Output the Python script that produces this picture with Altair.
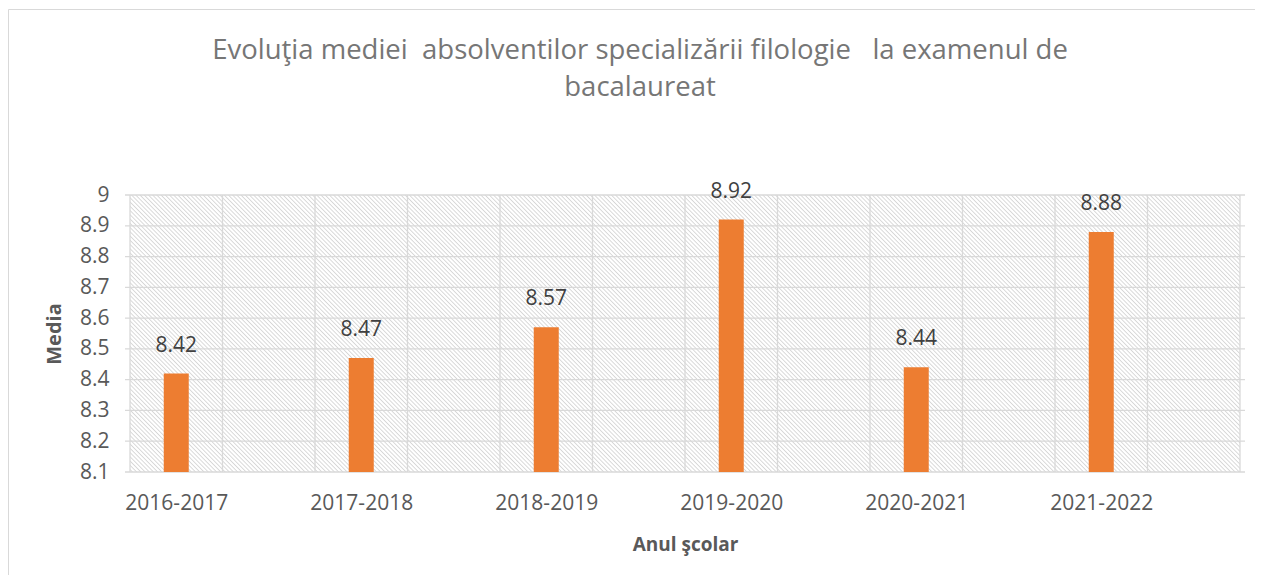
import json
import altair as alt
import pandas as pd

# ---- data ----
years = ["2016-2017", "2017-2018", "2018-2019", "2019-2020", "2020-2021", "2021-2022"]
means = [8.42, 8.47, 8.57, 8.92, 8.44, 8.88]
y_ticks = [8.1, 8.2, 8.3, 8.4, 8.5, 8.6, 8.7, 8.8, 8.9, 9.0]
x_grid = [-0.25, 0.25, 0.75, 1.25, 1.75, 2.25, 2.75, 3.25, 3.75, 4.25, 4.75, 5.25, 5.75]
x_domain = [-0.25, 5.75]
y_domain = [8.1, 9.0]

title_lines = [
    "Evoluţia mediei\u00a0 absolventilor specializării filologie\u00a0 \u00a0la examenul de",
    "bacalaureat",
]

W, H = 1120, 277
FONT = "Open Sans"
GRID = "#d9d9d9"
TEXT = "#595959"

df = pd.DataFrame({"idx": list(range(len(years))), "year": years, "media": means,
                   "base": [y_domain[0]] * len(years)})
grid_x = pd.DataFrame({"v": x_grid})
grid_y = pd.DataFrame({"v": y_ticks})
bg = pd.DataFrame({"x": [x_domain[0]], "x2": [x_domain[1]], "y": [y_domain[0]], "y2": [y_domain[1]]})

xs = alt.Scale(domain=x_domain, nice=False, zero=False)
ys = alt.Scale(domain=y_domain, nice=False, zero=False)

label_expr = json.dumps(years) + "[datum.value]"
xax = alt.Axis(values=list(range(len(years))), labelExpr=label_expr,
               grid=False, ticks=False, domain=False, labelFontSize=21,
               labelFont=FONT, labelColor=TEXT, labelPadding=20,
               title="Anul şcolar", titleFont=FONT, titleFontSize=19,
               titleFontWeight="bold", titleColor=TEXT, titlePadding=22)
yax = alt.Axis(values=y_ticks, labelExpr="format(datum.value, '.1~f')",
               grid=False, ticks=False, domain=False, labelFontSize=21,
               labelFont=FONT, labelColor=TEXT, labelPadding=16,
               title="Media", titleFont=FONT, titleFontSize=20,
               titleFontWeight="bold", titleColor=TEXT, titlePadding=15)

# hatch pattern built as a striped linear gradient (objectBoundingBox units)
r = H / W
k = (1 + r) / (1 + r * r)
N = 329
stops = []
for i in range(N):
    stops.append(alt.GradientStop(color="#ffffff", offset=i / N))
    stops.append(alt.GradientStop(color="#ffffff", offset=(i + 0.3) / N))
    stops.append(alt.GradientStop(color="#d6d6d6", offset=(i + 0.6) / N))
    stops.append(alt.GradientStop(color="#ffffff", offset=(i + 0.9) / N))
stops.append(alt.GradientStop(color="#ffffff", offset=1.0))
hatch = alt.LinearGradient(gradient="linear", stops=stops, x1=0, y1=1, x2=k, y2=1 - k * r)

back = alt.Chart(bg).mark_rect(fill=hatch).encode(
    x=alt.X("x:Q", scale=xs, axis=xax),
    x2="x2:Q",
    y=alt.Y("y:Q", scale=ys, axis=yax),
    y2="y2:Q",
)

vgrid = alt.Chart(grid_x).mark_rule(color=GRID, strokeWidth=1.3).encode(
    x=alt.X("v:Q", scale=xs, axis=xax)
)
hgrid = alt.Chart(grid_y).mark_rule(color=GRID, strokeWidth=1.3).encode(
    y=alt.Y("v:Q", scale=ys, axis=yax)
)

bars = alt.Chart(df).mark_bar(size=25, color="#ED7D31", orient="vertical").encode(
    x=alt.X("idx:Q", scale=xs, axis=xax),
    y=alt.Y("media:Q", scale=ys, axis=yax),
    y2="base:Q",
)

labels = alt.Chart(df).mark_text(font=FONT, fontSize=21, color="#404040",
                                 baseline="alphabetic", dy=-22).encode(
    x=alt.X("idx:Q", scale=xs, axis=xax),
    y=alt.Y("media:Q", scale=ys, axis=yax),
    text=alt.Text("media:Q", format=".2f"),
)

title = alt.Chart(bg).mark_text(font=FONT, fontSize=27.5, color="#767676", align="center",
                                baseline="alphabetic", lineHeight=37).encode(
    x=alt.value(515), y=alt.value(-136), text=alt.value(title_lines)
)

border = alt.Chart(bg).mark_rect(fill="#ffffff", fillOpacity=0, stroke=GRID, strokeWidth=1).encode(
    x=alt.value(-116.5), x2=alt.value(1400), y=alt.value(-185.5), y2=alt.value(600)
)

chart = alt.layer(back, vgrid, hgrid, bars, labels, title, border).properties(
    width=W, height=H,
    autosize=alt.AutoSizeParams(type="none"),
    padding={"left": 117, "top": 187, "right": 10, "bottom": 103},
).configure_view(strokeOpacity=0)

chart.save("out.html", embed_options={"renderer": "svg", "actions": False})
